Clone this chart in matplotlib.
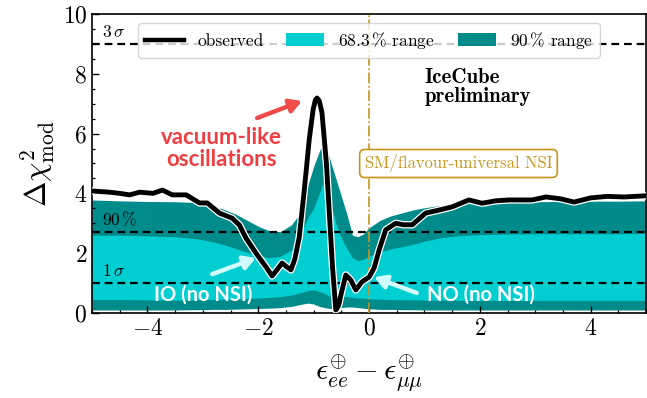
import matplotlib
matplotlib.use("Agg")
import matplotlib.pyplot as plt
import matplotlib.patheffects as pe
from matplotlib.patches import Patch
from matplotlib.lines import Line2D
from matplotlib.ticker import MultipleLocator

plt.rcParams.update({
    "font.family": "serif",
    "font.serif": ["cmr10"],
    "mathtext.fontset": "cm",
    "axes.formatter.use_mathtext": True,
    "axes.unicode_minus": True,
})

# Observed test statistic along the NSI parameter
obs_x = [-5.0, -4.68, -4.5, -4.32, -4.14, -3.9, -3.73, -3.55, -3.3, -3.06, -2.92,
         -2.7, -2.47, -2.34, -2.22, -2.04, -1.86, -1.75, -1.66, -1.57, -1.49, -1.41,
         -1.34, -1.26, -1.17, -1.08, -1.01, -0.97, -0.94, -0.9, -0.85, -0.77, -0.71,
         -0.66, -0.6, -0.55, -0.5, -0.42, -0.33, -0.24, -0.13, 0.0, 0.09, 0.18, 0.3,
         0.48, 0.62, 0.78, 1.02, 1.26, 1.5, 1.8, 2.04, 2.28, 2.52, 2.94, 3.19, 3.45,
         3.7, 4.0, 4.3, 4.6, 5.0]
obs_y = [4.08, 4.04, 4.0, 3.95, 4.04, 4.0, 4.11, 3.95, 3.95, 3.68, 3.68,
         3.34, 3.17, 2.94, 2.5, 2.0, 1.54, 1.24, 1.45, 1.67, 1.55, 1.44,
         1.8, 2.54, 4.1, 5.8, 6.8, 7.12, 7.19, 7.1, 6.7, 5.0, 3.1,
         1.54, 0.1, 0.25, 0.67, 1.27, 1.1, 0.77, 1.04, 1.2, 1.5, 2.1, 2.78,
         3.0, 2.95, 2.95, 3.34, 3.44, 3.55, 3.78, 3.67, 3.75, 3.78, 3.78, 3.88, 3.82,
         3.71, 3.85, 3.9, 3.88, 3.92]

# Expected ranges from pseudo-experiments
band_x = [-5.0, -4.5, -4.0, -3.5, -3.2, -3.0, -2.8, -2.6, -2.4, -2.2, -2.0, -1.8,
          -1.6, -1.4, -1.3, -1.2, -1.1, -1.0, -0.9, -0.8, -0.7, -0.6, -0.5, -0.4,
          -0.3, -0.2, -0.1, 0.0, 0.2, 0.4, 0.6, 0.8, 1.0, 1.3, 1.6, 2.0, 2.5, 3.0,
          3.5, 4.0, 4.5, 5.0]
up90 = [3.78, 3.75, 3.73, 3.72, 3.7, 3.66, 3.58, 3.45, 3.3, 3.1, 2.9, 2.75,
        2.72, 2.95, 3.2, 3.7, 4.3, 4.9, 5.4, 5.8, 5.1, 4.5, 3.9, 3.3,
        2.6, 2.55, 2.65, 2.85, 3.1, 3.25, 3.35, 3.45, 3.52, 3.6, 3.66, 3.7, 3.72, 3.72,
        3.73, 3.74, 3.74, 3.75]
up68 = [2.6, 2.6, 2.58, 2.55, 2.5, 2.45, 2.37, 2.27, 2.15, 2.03, 1.92, 1.85,
        1.9, 2.1, 2.4, 2.8, 3.2, 3.5, 4.0, 4.5, 3.7, 3.0, 2.5, 2.15,
        1.85, 1.75, 1.8, 1.9, 2.05, 2.15, 2.22, 2.3, 2.4, 2.52, 2.58, 2.62, 2.64, 2.65,
        2.65, 2.65, 2.65, 2.66]
lo68 = [0.45, 0.45, 0.44, 0.43, 0.44, 0.45, 0.45, 0.46, 0.47, 0.48, 0.5, 0.52,
        0.55, 0.6, 0.65, 0.7, 0.75, 0.77, 0.72, 0.65, 0.55, 0.5, 0.55, 0.55,
        0.52, 0.5, 0.5, 0.48, 0.46, 0.45, 0.44, 0.44, 0.43, 0.43, 0.42, 0.42, 0.42, 0.42,
        0.42, 0.42, 0.42, 0.42]
lo90 = [0.1, 0.1, 0.1, 0.1, 0.11, 0.11, 0.12, 0.12, 0.13, 0.14, 0.15, 0.16,
        0.18, 0.22, 0.26, 0.3, 0.33, 0.3, 0.22, 0.18, 0.15, 0.15, 0.18, 0.2,
        0.2, 0.18, 0.16, 0.14, 0.12, 0.12, 0.11, 0.11, 0.1, 0.1, 0.1, 0.1, 0.1, 0.1,
        0.1, 0.1, 0.1, 0.1]

# Reference levels
levels = [9.0, 2.71, 1.0]
level_labels = [r"$3\,\sigma$", r"$90\,\%$", r"$1\,\sigma$"]

col68 = "#00ced1"
col90 = "#008b8b"
gold = "#c8941c"

fig = plt.figure(figsize=(6.47, 3.98), dpi=100)
ax = fig.add_axes([0.1422, 0.2136, 0.8565, 0.7513])

ax.fill_between(band_x, lo90, up90, color=col90, lw=0, zorder=1)
ax.fill_between(band_x, lo68, up68, color=col68, lw=0, zorder=2)

for lv, lab in zip(levels, level_labels):
    ax.axhline(lv, color="black", lw=1.6, dashes=(3.5, 2.2), zorder=3)
    ax.text(-4.82, lv + 0.12, lab, fontsize=12.5, ha="left", va="bottom", zorder=3)

ax.axvline(0.0, color=gold, lw=1.2, ls="-.", zorder=3.5)

ax.plot(obs_x, obs_y, color="black", lw=3.5, zorder=4, solid_joinstyle="round",
        path_effects=[pe.Stroke(linewidth=5.3, foreground="white"), pe.Normal()])

ax.set_xlim(-5, 5)
ax.set_ylim(0, 10)
ax.xaxis.set_major_locator(MultipleLocator(2))
ax.xaxis.set_minor_locator(MultipleLocator(0.5))
ax.yaxis.set_major_locator(MultipleLocator(2))
ax.yaxis.set_minor_locator(MultipleLocator(0.5))
ax.tick_params(which="both", direction="in", top=False, right=False, labelsize=17)
ax.tick_params(which="major", length=5, width=1.0)
ax.tick_params(which="minor", length=2.5, width=0.9)
for s in ax.spines.values():
    s.set_linewidth(1.2)

ax.set_xlabel(r"$\epsilon^{\oplus}_{ee} - \epsilon^{\oplus}_{\mu\mu}$", fontsize=22, labelpad=10)
ax.set_ylabel(r"$\Delta\chi^2_{\rm mod}$", fontsize=22, labelpad=4)

handles = [Line2D([], [], color="black", lw=3.2),
           Patch(color=col68, lw=0),
           Patch(color=col90, lw=0)]
labels = ["observed", r"$68.3\,\%$ range", r"$90\,\%$ range"]
leg = ax.legend(handles, labels, loc="upper center", ncol=3, fontsize=12.5,
                framealpha=0.8, edgecolor="#cccccc", fancybox=True,
                borderaxespad=0.5, columnspacing=1.3, handlelength=2.2)
leg.set_zorder(6)

ax.text(1.0, 7.55, "IceCube\npreliminary", fontfamily="cmb10", fontsize=15,
        ha="left", va="center", linespacing=1.0, zorder=5)

ax.text(-0.08, 5.0, "SM/flavour-universal NSI", fontsize=12, color=gold,
        ha="left", va="center", zorder=5,
        bbox=dict(boxstyle="round,pad=0.3", fc="white", ec=gold, lw=1.2))

ax.text(-2.67, 5.5, "vacuum-like\noscillations", fontfamily="Lato", fontweight="bold",
        fontsize=16, color="#ef3e42", ha="center", va="center", linespacing=1.1,
        zorder=5)
ax.annotate("", xy=(-1.21, 7.09), xytext=(-2.02, 6.52),
            arrowprops=dict(arrowstyle="-|>,head_length=0.7,head_width=0.4",
                            color="#ef4b4b", lw=3.2, shrinkA=0, shrinkB=0), zorder=5)

ax.text(-3.0, 0.6, "IO (no NSI)", fontfamily="Lato", fontweight="bold", fontsize=14.5,
        color="white", ha="center", va="center", zorder=5)
ax.annotate("", xy=(-2.04, 1.84), xytext=(-2.83, 1.3),
            arrowprops=dict(arrowstyle="-|>,head_length=0.7,head_width=0.4",
                            color="#d2fbfb", lw=3.2, shrinkA=0, shrinkB=0), zorder=5)

ax.text(2.02, 0.6, "NO (no NSI)", fontfamily="Lato", fontweight="bold", fontsize=14.5,
        color="white", ha="center", va="center", zorder=5)
ax.annotate("", xy=(0.09, 1.2), xytext=(0.86, 0.67),
            arrowprops=dict(arrowstyle="-|>,head_length=0.7,head_width=0.4",
                            color="#d2fbfb", lw=3.2, shrinkA=0, shrinkB=0), zorder=5)

fig.savefig("out.png", dpi=100)
